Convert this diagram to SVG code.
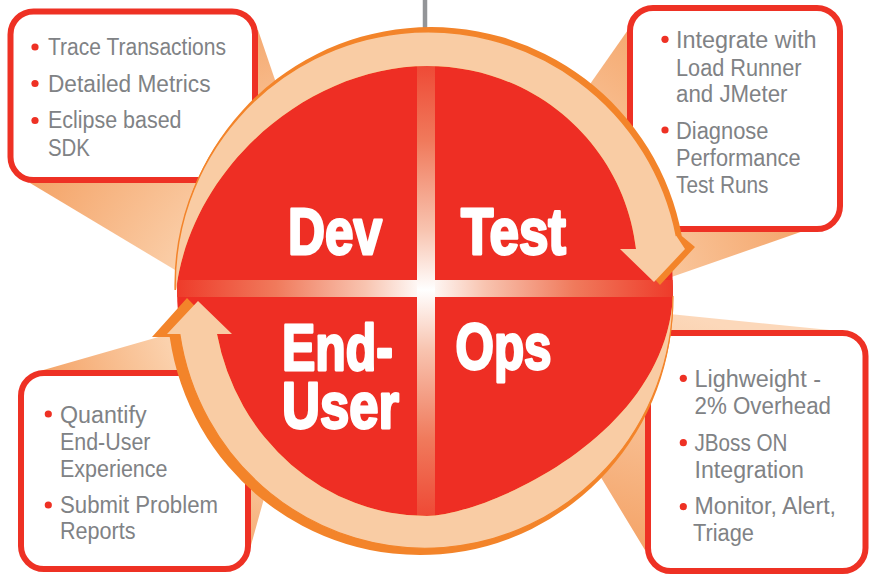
<svg xmlns="http://www.w3.org/2000/svg" width="870" height="576" viewBox="0 0 870 576">
<defs>
<style>
.box{fill:#ffffff;stroke:#ee3124;stroke-width:6}
.txt{font-family:"Liberation Sans",Arial,sans-serif;font-size:23px;fill:#808285}
.bul{fill:#ee3124}
.big{font-family:"Liberation Sans",Arial,sans-serif;font-weight:bold;font-size:64px;fill:#ffffff;stroke:#ffffff;stroke-width:2.8;stroke-linejoin:round}
.peach{fill:#f9cca4}
.orange{fill:#f3842a}
.oline{fill:none;stroke:#f3842a}
</style>
<radialGradient id="gTL" gradientUnits="userSpaceOnUse" cx="382" cy="394" r="411">
<stop offset="0" stop-color="#fde0c6"/><stop offset="0.55" stop-color="#fbd2ae"/><stop offset="1" stop-color="#f4a367"/>
</radialGradient>
<radialGradient id="gTR" gradientUnits="userSpaceOnUse" cx="385" cy="377" r="452">
<stop offset="0" stop-color="#fde0c6"/><stop offset="0.55" stop-color="#fbd2ae"/><stop offset="1" stop-color="#f4a367"/>
</radialGradient>
<radialGradient id="gBL" gradientUnits="userSpaceOnUse" cx="322" cy="290" r="293">
<stop offset="0" stop-color="#fde0c6"/><stop offset="0.55" stop-color="#fbd2ae"/><stop offset="1" stop-color="#f4a367"/>
</radialGradient>
<linearGradient id="gBR" gradientUnits="userSpaceOnUse" x1="648" y1="555" x2="720" y2="325">
<stop offset="0" stop-color="#f4a367"/><stop offset="1" stop-color="#fcd8ba"/>
</linearGradient>
<linearGradient id="gH" x1="0" y1="0" x2="1" y2="0">
<stop offset="0" stop-color="#ee3b2a"/><stop offset="0.2" stop-color="#f07a5c"/><stop offset="0.38" stop-color="#f8c4b0"/><stop offset="0.5" stop-color="#ffffff"/><stop offset="0.62" stop-color="#f8c4b0"/><stop offset="0.8" stop-color="#f07a5c"/><stop offset="1" stop-color="#ee3b2a"/>
</linearGradient>
<linearGradient id="gV" x1="0" y1="0" x2="0" y2="1">
<stop offset="0" stop-color="#ee3b2a"/><stop offset="0.2" stop-color="#f07a5c"/><stop offset="0.38" stop-color="#f8c4b0"/><stop offset="0.5" stop-color="#ffffff"/><stop offset="0.62" stop-color="#f8c4b0"/><stop offset="0.8" stop-color="#f07a5c"/><stop offset="1" stop-color="#ee3b2a"/>
</linearGradient>
<clipPath id="disc"><circle cx="425" cy="290" r="248"/></clipPath>
</defs>

<rect x="0" y="0" width="870" height="576" fill="#ffffff"/>

<g id="connectors">
<line x1="425" y1="0" x2="425" y2="32" stroke="#939598" stroke-width="4.5"/>
<polygon points="382,394 30,183 40,150 200,40 258,30" fill="url(#gTL)"/>
<polygon points="385,377 630,27 720,60 812,228" fill="url(#gTR)"/>
<polygon points="322,290 40,371 60,420 240,540 248,556" fill="url(#gBL)"/>
<polygon points="491,296 850,332 840,380 660,540 648,555" fill="url(#gBR)"/>
</g>

<g id="box-dev">
<rect class="box" x="10.5" y="11.5" width="244.5" height="168.5" rx="23"/>
<circle class="bul" cx="35" cy="47" r="3.6"/>
<circle class="bul" cx="35" cy="83.5" r="3.6"/>
<circle class="bul" cx="35" cy="120.5" r="3.6"/>
<text class="txt" x="48" y="55" textLength="178" lengthAdjust="spacingAndGlyphs">Trace Transactions</text>
<text class="txt" x="48" y="91.7" textLength="162.5" lengthAdjust="spacingAndGlyphs">Detailed Metrics</text>
<text class="txt" x="48" y="128" textLength="133.5" lengthAdjust="spacingAndGlyphs">Eclipse based</text>
<text class="txt" x="48" y="156" textLength="42" lengthAdjust="spacingAndGlyphs">SDK</text>
</g>

<g id="box-test">
<rect class="box" x="630" y="8" width="210" height="221" rx="23"/>
<circle class="bul" cx="665" cy="39.3" r="3.6"/>
<circle class="bul" cx="665" cy="130" r="3.6"/>
<text class="txt" x="676" y="48.3" textLength="140.5" lengthAdjust="spacingAndGlyphs">Integrate with</text>
<text class="txt" x="676" y="76" textLength="125.5" lengthAdjust="spacingAndGlyphs">Load Runner</text>
<text class="txt" x="676" y="101.7" textLength="111.5" lengthAdjust="spacingAndGlyphs">and JMeter</text>
<text class="txt" x="676" y="139.3" textLength="92.5" lengthAdjust="spacingAndGlyphs">Diagnose</text>
<text class="txt" x="676" y="166" textLength="124.5" lengthAdjust="spacingAndGlyphs">Performance</text>
<text class="txt" x="676" y="192.7" textLength="92.5" lengthAdjust="spacingAndGlyphs">Test Runs</text>
</g>

<g id="box-enduser">
<rect class="box" x="21" y="373" width="227" height="196" rx="23"/>
<circle class="bul" cx="48.3" cy="414" r="3.6"/>
<circle class="bul" cx="48.3" cy="505" r="3.6"/>
<text class="txt" x="60" y="422.7" textLength="86.5" lengthAdjust="spacingAndGlyphs">Quantify</text>
<text class="txt" x="60" y="450" textLength="90.5" lengthAdjust="spacingAndGlyphs">End-User</text>
<text class="txt" x="60" y="476.7" textLength="107.5" lengthAdjust="spacingAndGlyphs">Experience</text>
<text class="txt" x="60" y="513.3" textLength="158" lengthAdjust="spacingAndGlyphs">Submit Problem</text>
<text class="txt" x="60" y="539.3" textLength="75.5" lengthAdjust="spacingAndGlyphs">Reports</text>
</g>

<g id="box-ops">
<rect class="box" x="648" y="333" width="217.5" height="238" rx="23"/>
<circle class="bul" cx="683.3" cy="378.3" r="3.6"/>
<circle class="bul" cx="683.3" cy="442.7" r="3.6"/>
<circle class="bul" cx="683.3" cy="506.7" r="3.6"/>
<text class="txt" x="694.5" y="386.7" textLength="126.5" lengthAdjust="spacingAndGlyphs">Lighweight -</text>
<text class="txt" x="694.5" y="414.3" textLength="136.5" lengthAdjust="spacingAndGlyphs">2% Overhead</text>
<text class="txt" x="694.5" y="451" textLength="93" lengthAdjust="spacingAndGlyphs">JBoss ON</text>
<text class="txt" x="694.5" y="478.3" textLength="109.5" lengthAdjust="spacingAndGlyphs">Integration</text>
<text class="txt" x="694.5" y="514.3" textLength="141.5" lengthAdjust="spacingAndGlyphs">Monitor, Alert,</text>
<text class="txt" x="693" y="540.7" textLength="61" lengthAdjust="spacingAndGlyphs">Triage</text>
</g>

<g id="cycle">
<circle cx="425" cy="290" r="248" fill="#ee2e24"/>
<rect x="177" y="280" width="496" height="17" fill="url(#gH)" clip-path="url(#disc)"/>
<rect x="417" y="42" width="18" height="496" fill="url(#gV)" clip-path="url(#disc)"/>
<path class="orange" d="M176,283 A255,255 0 0 1 681.8,236 L695,247 L660,285 L627,249 L636,249 C625,150 540,66 427,66 C310,66 192,165 176,290 Z"/>
<path class="peach" d="M175.2,290 A253,253 0 0 1 676.4,236 L685,249 L654,282 L620,249 L636,249 C625,150 540,66 427,66 C310,66 192,165 176,290 Z"/>
<path class="oline" stroke-width="1.5" d="M175.2,290 A253,253 0 0 1 676.4,236"/>
<path class="orange" d="M673,296 A253,255 0 0 1 169.7,337 L152,337 L187,298 L222,334 L217,334 A214,226 0 0 0 427,516 C480,516 665,440 673,296 Z"/>
<path class="peach" d="M673,296 A248,252 0 0 1 179.8,334 L167,334 L198,301 L232,334 L217,334 A214,226 0 0 0 427,516 C480,516 665,440 673,296 Z"/>
<path class="oline" stroke-width="1.2" d="M673,296 A248,252 0 0 1 179.8,334"/>
<text class="big" x="288" y="254" textLength="94" lengthAdjust="spacingAndGlyphs">Dev</text>
<text class="big" x="461" y="254" textLength="105" lengthAdjust="spacingAndGlyphs">Test</text>
<text class="big"><tspan x="282" y="370" textLength="111" lengthAdjust="spacingAndGlyphs">End-</tspan><tspan x="282" y="428" textLength="117" lengthAdjust="spacingAndGlyphs">User</tspan></text>
<text class="big" x="455.5" y="369" textLength="96" lengthAdjust="spacingAndGlyphs">Ops</text>
</g>
</svg>
